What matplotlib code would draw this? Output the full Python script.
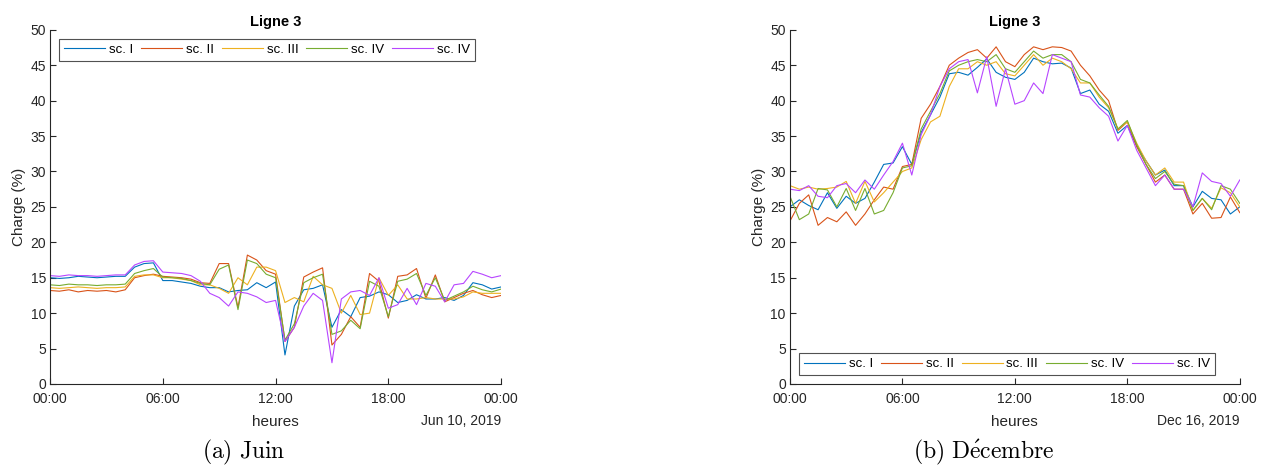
import numpy as np
import matplotlib.pyplot as plt

# half-hourly load of line 3 (%), 00:00 -> 24:00
hours = np.arange(0, 24.5, 0.5)

juin_sc1 = [15.0, 14.9, 15.0, 15.2, 15.1, 15.0, 15.1, 15.2, 15.2, 16.5, 17.0, 17.1, 14.6,
            14.6, 14.4, 14.2, 13.8, 13.6, 13.6, 13.0, 13.2, 13.3, 14.3, 13.6, 14.4, 4.1,
            11.0, 13.3, 13.5, 14.0, 8.0, 10.5, 9.5, 12.2, 12.4, 13.0, 12.6, 11.5, 11.8,
            12.6, 12.0, 12.0, 12.2, 11.8, 12.5, 14.3, 14.0, 13.4, 13.7]
juin_sc2 = [13.2, 13.1, 13.3, 13.0, 13.2, 13.1, 13.2, 13.0, 13.3, 15.0, 15.3, 15.5, 15.2,
            15.1, 15.0, 14.8, 14.3, 14.2, 17.0, 17.0, 10.8, 18.2, 17.5, 16.0, 15.5, 6.0,
            8.0, 15.1, 15.8, 16.4, 5.5, 7.0, 9.5, 8.0, 15.6, 14.5, 9.3, 15.2, 15.4,
            16.3, 12.1, 15.4, 11.6, 12.2, 12.8, 13.2, 12.6, 12.2, 12.5]
juin_sc3 = [13.6, 13.5, 13.6, 13.7, 13.6, 13.5, 13.6, 13.6, 13.7, 15.2, 15.4, 15.4, 15.0,
            15.0, 14.8, 14.6, 14.0, 14.0, 13.5, 12.8, 15.0, 14.0, 16.5, 16.5, 16.0, 11.5,
            12.2, 11.6, 15.2, 14.0, 13.5, 10.0, 12.5, 9.8, 10.0, 15.0, 12.5, 14.0, 12.0,
            12.0, 12.2, 12.0, 12.0, 12.0, 12.3, 13.0, 12.8, 12.8, 12.8]
juin_sc4 = [14.0, 13.9, 14.1, 14.0, 14.0, 13.9, 14.0, 14.0, 14.1, 15.6, 16.0, 16.3, 15.1,
            15.0, 14.9, 14.6, 14.2, 14.0, 16.2, 16.8, 10.5, 17.5, 17.0, 15.5, 15.0, 6.2,
            8.5, 14.3, 15.0, 15.5, 7.0, 7.5, 9.0, 7.8, 14.5, 13.8, 9.5, 14.5, 14.8,
            15.6, 12.5, 15.0, 11.8, 12.4, 13.0, 13.8, 13.3, 13.0, 13.4]
juin_sc5 = [15.3, 15.2, 15.4, 15.3, 15.3, 15.2, 15.3, 15.4, 15.4, 16.8, 17.3, 17.4, 15.8,
            15.7, 15.6, 15.3, 14.5, 12.8, 12.2, 11.0, 13.0, 12.8, 12.3, 11.5, 11.8, 6.0,
            8.0, 11.0, 12.8, 11.8, 3.0, 12.0, 13.0, 13.2, 12.5, 15.0, 10.7, 11.2, 13.5,
            11.2, 14.2, 13.8, 11.6, 14.0, 14.2, 15.9, 15.5, 15.0, 15.3]

dec_sc1 = [25.0, 26.0, 25.2, 24.6, 27.0, 24.8, 26.5, 25.5, 26.2, 28.5, 31.0, 31.2, 33.5,
           31.0, 35.5, 38.0, 40.5, 43.8, 44.0, 43.6, 44.7, 45.9, 44.0, 43.3, 43.0, 44.0,
           46.0, 45.5, 45.2, 45.3, 44.6, 41.0, 41.5, 39.5, 38.5, 35.4, 36.5, 33.6, 31.5,
           29.5, 30.2, 28.0, 28.0, 25.0, 27.2, 26.2, 26.0, 24.0, 25.0]
dec_sc2 = [23.0, 25.5, 26.7, 22.4, 23.5, 22.9, 24.3, 22.4, 24.0, 26.0, 27.8, 27.5, 30.7,
           31.0, 37.5, 39.5, 42.0, 45.0, 46.0, 46.8, 47.2, 46.0, 47.6, 45.5, 44.8, 46.5,
           47.6, 47.2, 47.6, 47.5, 47.0, 45.0, 43.5, 41.5, 40.0, 35.8, 37.0, 33.5, 31.0,
           28.5, 29.5, 27.5, 27.5, 24.0, 25.5, 23.4, 23.5, 26.4, 24.2]
dec_sc3 = [28.0, 27.5, 27.8, 27.5, 27.6, 27.8, 28.6, 25.5, 28.6, 25.7, 27.0, 28.5, 30.0,
           30.5, 34.5, 37.0, 37.8, 42.0, 44.5, 44.5, 45.5, 45.0, 45.5, 43.8, 43.5, 45.0,
           46.5, 45.0, 46.0, 45.5, 44.5, 42.5, 42.5, 40.5, 39.0, 36.0, 37.0, 34.0, 31.5,
           29.5, 30.5, 28.5, 28.5, 24.5, 26.2, 24.8, 27.7, 27.0, 25.0]
dec_sc4 = [26.5, 23.2, 24.0, 27.6, 27.4, 25.0, 27.6, 24.5, 27.6, 24.0, 24.5, 27.0, 30.5,
           30.8, 36.0, 38.5, 41.0, 44.2, 45.0, 45.5, 45.8, 45.5, 46.5, 44.5, 44.0, 45.5,
           47.0, 46.0, 46.5, 46.5, 45.5, 43.0, 42.5, 40.8, 39.2, 36.0, 37.2, 33.8, 31.0,
           29.0, 30.0, 28.2, 28.0, 24.5, 26.2, 24.6, 28.0, 27.5, 25.5]
dec_sc5 = [27.5, 27.3, 28.0, 26.5, 26.3, 28.0, 28.3, 27.0, 28.8, 27.5, 29.5, 31.4, 34.0,
           29.5, 35.2, 38.0, 42.0, 44.5, 45.5, 45.8, 41.1, 46.2, 39.2, 44.5, 39.5, 40.0,
           42.5, 41.0, 46.5, 46.0, 45.5, 40.8, 40.5, 39.0, 37.8, 34.3, 36.5, 33.0, 30.5,
           28.0, 29.5, 27.5, 27.5, 25.0, 29.8, 28.6, 28.3, 26.5, 28.8]

labels = ['sc. I', 'sc. II', 'sc. III', 'sc. IV', 'sc. IV']
colors = ['#0072BD', '#D95319', '#EDB120', '#77AC30', '#B746FF']
xticks = [0, 6, 12, 18, 24]
xticklabels = ['00:00', '06:00', '12:00', '18:00', '00:00']

plt.rcParams['font.family'] = ['Liberation Sans', 'DejaVu Sans']
plt.rcParams['mathtext.fontset'] = 'cm'
dark = '#262626'

fig = plt.figure(figsize=(12.67, 4.66), dpi=100)

def panel(rect, series, date, caption, legloc):
    ax = fig.add_axes(rect)
    for y, c, l in zip(series, colors, labels):
        ax.plot(hours, y, color=c, lw=0.8, label=l)
    ax.set_xlim(0, 24)
    ax.set_ylim(0, 50)
    ax.set_xticks(xticks)
    ax.set_xticklabels(xticklabels)
    ax.set_yticks(np.arange(0, 51, 5))
    for s in ['top', 'right']:
        ax.spines[s].set_visible(False)
    for s in ['left', 'bottom']:
        ax.spines[s].set_color(dark)
        ax.spines[s].set_linewidth(0.8)
    ax.tick_params(direction='in', length=4, width=0.8, colors=dark, labelsize=10)
    ax.tick_params(axis='x', pad=6)
    ax.tick_params(axis='y', pad=3)
    ax.set_title('Ligne 3', fontsize=10.5, fontweight='bold', color='black', pad=3)
    ax.set_ylabel('Charge (%)', fontsize=11, color=dark, labelpad=3)
    ax.set_xlabel('heures', fontsize=11, color=dark, labelpad=6)
    ax.text(1.0, -0.085, date, transform=ax.transAxes, ha='right', va='top',
            fontsize=10, color=dark)
    leg = ax.legend(loc=legloc, ncol=5, fontsize=9.5, frameon=True, fancybox=False,
                    handlelength=3.1, columnspacing=0.6, borderpad=0.35,
                    handletextpad=0.3, borderaxespad=0.7)
    leg.get_frame().set_edgecolor(dark)
    leg.get_frame().set_linewidth(0.8)
    fig.text(rect[0] + rect[2] * 0.43, 0.03, caption, ha='center', va='center',
             fontsize=17)
    return ax

panel([0.0395, 0.176, 0.356, 0.76],
      [juin_sc1, juin_sc2, juin_sc3, juin_sc4, juin_sc5],
      'Jun 10, 2019', r'$\mathrm{(a)\ Juin}$', 'upper left')
panel([0.6235, 0.176, 0.355, 0.76],
      [dec_sc1, dec_sc2, dec_sc3, dec_sc4, dec_sc5],
      'Dec 16, 2019', r'$\mathrm{(b)\ D\acute{e}cembre}$', 'lower left')

fig.savefig('out.png', dpi=100)
